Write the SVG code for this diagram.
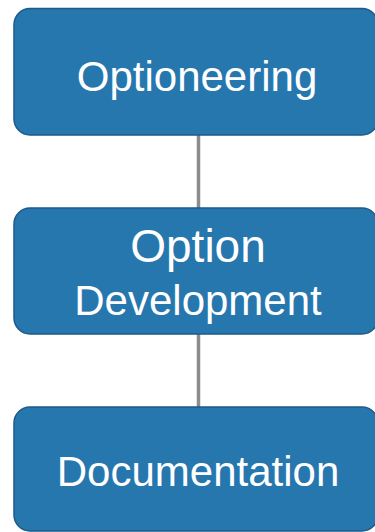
<svg xmlns="http://www.w3.org/2000/svg" width="375" height="532" viewBox="0 0 375 532">
  <style>
    .box { fill: #2777af; stroke: #1d5a88; stroke-width: 1.5; }
    .lbl { fill: #ffffff; font-family: "Liberation Sans", Arial, sans-serif; text-anchor: middle; }
    .conn { stroke: #8c8c8c; stroke-width: 3.5; fill: none; }
  </style>
  <rect width="375" height="532" fill="#ffffff"/>
  <g id="connectors">
    <line class="conn" x1="198.5" y1="135" x2="198.5" y2="208"/>
    <line class="conn" x1="198.5" y1="334" x2="198.5" y2="407"/>
  </g>
  <g id="optioneering">
    <rect class="box" x="14" y="8.5" width="364" height="126.5" rx="16" ry="16"/>
    <text class="lbl" x="197" y="90.5" font-size="42">Optioneering</text>
  </g>
  <g id="option-development">
    <rect class="box" x="14" y="208" width="364" height="126" rx="16" ry="16"/>
    <text class="lbl" x="198" y="261.5" font-size="46">Option</text>
    <text class="lbl" x="198" y="315" font-size="42">Development</text>
  </g>
  <g id="documentation">
    <rect class="box" x="14" y="407" width="364" height="124" rx="16" ry="16"/>
    <text class="lbl" x="198" y="486" font-size="42">Documentation</text>
  </g>
</svg>
